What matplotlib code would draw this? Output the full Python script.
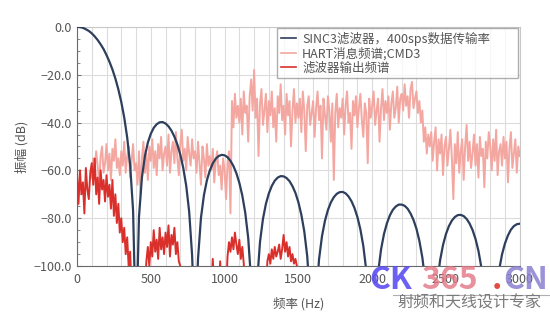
import numpy as np
import matplotlib

matplotlib.use("Agg")
import matplotlib.pyplot as plt
from matplotlib.ticker import MultipleLocator, FuncFormatter

plt.rcParams["font.family"] = ["Noto Sans CJK SC", "DejaVu Sans"]

# SINC3 filter response, read every 20 Hz from 0 to 3000 Hz (dB, nulls below axis)
SINC_START, SINC_STEP = 0, 20
SINC_DB = [
    0.0, -0.1, -0.4, -1.0, -1.7, -2.7, -4.0, -5.5, -7.3, -9.3,
    -11.8, -14.6, -17.8, -21.6, -26.1, -31.4, -37.9, -46.2, -57.7, -76.8,
    -130,
    -79.4, -62.9, -54.1, -48.4, -44.7, -42.2, -40.7, -39.9, -39.8, -40.4,
    -41.6, -43.4, -45.9, -49.2, -53.4, -59.0, -66.4, -77.2, -95.6, -130,
    -96.9, -79.8, -70.4, -64.2, -60.0, -57.1, -55.1, -54.0, -53.5, -53.7,
    -54.5, -56.0, -58.2, -61.2, -65.2, -70.5, -77.7, -88.2, -106.4, -130,
    -107.2, -89.9, -80.3, -74.0, -69.6, -66.5, -64.3, -63.0, -62.4, -62.5,
    -63.2, -64.5, -66.6, -69.4, -73.3, -78.5, -85.5, -95.9, -114.0, -130,
    -114.6, -97.2, -87.5, -81.1, -76.6, -73.4, -71.2, -69.8, -69.1, -69.0,
    -69.6, -70.9, -72.9, -75.7, -79.5, -84.6, -91.6, -101.8, -119.9, -130,
    -120.4, -102.9, -93.1, -86.6, -82.1, -78.8, -76.5, -75.1, -74.3, -74.3,
    -74.8, -76.0, -78.0, -80.7, -84.4, -89.5, -96.4, -106.7, -124.6, -130,
    -125.1, -107.6, -97.7, -91.2, -86.6, -83.3, -81.0, -79.5, -78.7, -78.6,
    -79.1, -80.3, -82.2, -84.9, -88.6, -93.6, -100.6, -110.8, -128.7, -130,
    -129.1, -111.5, -101.7, -95.1, -90.5, -87.2, -84.8, -83.3, -82.5, -82.3,
]

# HART message spectrum (CMD3), read every 10 Hz from 100 to 3000 Hz
HART_START, HART_STEP = 100, 10
HART_DB = [
    -63, -55, -60, -52, -58, -66, -54, -50, -61, -57,
    -49, -60, -53, -64, -51, -56, -47, -59, -55, -62,
    -52, -58, -48, -61, -54, -50, -63, -56, -49, -60,
    -57, -66, -52, -70, -55, -48, -61, -53, -64, -50,
    -56, -47, -59, -52, -62, -49, -55, -46, -60, -53,
    -50, -58, -45, -61, -52, -48, -57, -44, -55, -62,
    -49, -43, -56, -51, -60, -46, -53, -58, -47, -55,
    -52, -61, -48, -57, -66, -50, -55, -63, -49, -58,
    -54, -60, -51, -65, -56, -52, -62, -58, -68, -55,
    -60, -72, -57, -52, -78, -31, -42, -28, -38, -33,
    -40, -30, -45, -27, -36, -33, -48, -29, -22, -35,
    -18, -38, -30, -54, -32, -26, -41, -35, -28, -44,
    -31, -37, -27, -42, -34, -48, -29, -36, -24, -39,
    -33, -45, -28, -37, -31, -50, -35, -26, -40, -32,
    -38, -30, -44, -27, -35, -52, -33, -29, -41, -36,
    -31, -46, -34, -27, -39, -33, -55, -30, -37, -43,
    -29, -35, -48, -32, -64, -36, -28, -42, -34, -38,
    -30, -45, -33, -27, -40, -36, -51, -31, -37, -29,
    -42, -34, -28, -39, -46, -32, -36, -57, -30, -38,
    -33, -27, -41, -35, -30, -48, -34, -26, -39, -31,
    -36, -29, -43, -32, -27, -38, -34, -25, -40, -30,
    -28, -35, -24, -33, -29, -38, -26, -23, -34, -30,
    -27, -36, -31, -40, -35, -48, -42, -53, -45, -50,
    -44, -56, -48, -42, -60, -47, -53, -45, -62, -50,
    -46, -58, -51, -43, -55, -72, -49, -57, -44, -61,
    -52, -47, -64, -50, -41, -56, -48, -59, -53, -45,
    -58, -49, -63, -46, -54, -51, -67, -48, -55, -44,
    -50, -60, -47, -56, -43, -62, -52, -49, -58, -46,
    -55, -48, -65, -51, -44, -59, -53, -47, -61, -50,
    -54,
]

# filter output spectrum, read every 10 Hz from 0 to 1500 Hz (-110 = below axis)
OUT_START, OUT_STEP = 0, 10
OUT_DB = [
    -62, -74, -60, -70, -65, -78, -59, -68, -72, -61,
    -57, -66, -55, -70, -63, -74, -60, -68, -64, -73,
    -62, -71, -66, -76, -64, -79, -70, -82, -74, -86,
    -80, -90, -84, -95, -88, -100, -94, -110, -110, -110,
    -110, -110, -110, -110, -110, -110, -110, -98, -92, -100,
    -90, -96, -85, -94, -89, -97, -84, -93, -88, -95,
    -86, -92, -83, -96, -87, -91, -84, -95, -90, -98,
    -100, -110, -110, -110, -110, -110, -110, -110, -110, -110,
    -110, -110, -110, -110, -110, -110, -110, -110, -110, -110,
    -110, -110, -97, -110, -110, -110, -110, -98, -110, -110,
    -110, -110, -96, -90, -94, -88, -93, -86, -91, -95,
    -89, -97, -92, -99, -110, -110, -110, -110, -110, -110,
    -110, -110, -110, -110, -110, -110, -110, -110, -110, -98,
    -95, -99, -93, -97, -92, -96, -94, -91, -97, -93,
    -87, -94, -90, -96, -92, -98, -95, -99, -97, -100,
    -110,
]

LABELS = ["SINC3滤波器，400sps数据传输率", "HART消息频谱;CMD3", "滤波器输出频谱"]


def freqs(start, step, values):
    return start + step * np.arange(len(values))


fig = plt.figure(figsize=(5.5, 3.16), dpi=100)
ax = fig.add_axes([0.14, 0.158, 0.805, 0.757])

h_pink, = ax.plot(freqs(HART_START, HART_STEP, HART_DB), HART_DB, color="#f4a7a0", lw=1.4, zorder=2)
h_red, = ax.plot(freqs(OUT_START, OUT_STEP, OUT_DB), OUT_DB, color="#d9302c", lw=1.4, zorder=3)
h_sinc, = ax.plot(freqs(SINC_START, SINC_STEP, SINC_DB), SINC_DB, color="#2d3f5c", lw=1.6, zorder=4)

ax.set_xlim(0, 3000)
ax.set_ylim(-100, 0)
ax.xaxis.set_major_locator(MultipleLocator(500))
ax.xaxis.set_minor_locator(MultipleLocator(100))
ax.yaxis.set_major_locator(MultipleLocator(20))
ax.yaxis.set_minor_locator(MultipleLocator(5))
ax.yaxis.set_major_formatter(FuncFormatter(lambda v, _: f"{v:.1f}".replace("-", "\u2212")))
ax.grid(True, which="major", color="#dcdcdc", lw=0.8)
ax.grid(True, which="minor", axis="x", color="#dcdcdc", lw=0.8)
ax.set_axisbelow(True)
ax.tick_params(which="both", direction="in", colors="#777777", labelcolor="#555555", labelsize=9)
ax.tick_params(which="major", length=3)
ax.tick_params(which="minor", length=2)
ax.tick_params(axis="x", which="both", length=0, pad=5)
for side in ["left", "bottom"]:
    ax.spines[side].set_color("#6a6a6a")
for side in ["top", "right"]:
    ax.spines[side].set_color("#c8c8c8")

ax.set_xlabel("频率 (Hz)", fontsize=9, color="#555555", labelpad=8)
ax.set_ylabel("振幅 (dB)", fontsize=9, color="#555555", labelpad=4)

# legend box stretched to the width seen in the reference
leg = ax.legend(
    [h_sinc, h_pink, h_red], LABELS,
    loc="upper left", bbox_to_anchor=(0.452, 0.0, 0.543, 0.996), mode="expand",
    fontsize=9, frameon=True, fancybox=False, borderaxespad=0.0,
    handlelength=1.2, handletextpad=0.5, labelspacing=0.1, borderpad=0.3,
    labelcolor="#555555",
)
leg.get_frame().set_edgecolor("#9a9a9a")
leg.get_frame().set_linewidth(1.0)
for line in leg.get_lines():
    line.set_linewidth(1.2)

# site watermark
fig.text(0.672, 0.085, "CK", color="#5b4ff0", fontsize=23, fontweight="bold", alpha=0.9, zorder=10)
fig.text(0.765, 0.085, "365", color="#e37482", fontsize=23, fontweight="bold", alpha=0.8, zorder=10)
fig.text(0.895, 0.085, ".", color="#e03a2c", fontsize=23, fontweight="bold", alpha=0.9, zorder=10)
fig.text(0.915, 0.085, "CN", color="#8a7fd0", fontsize=23, fontweight="bold", alpha=0.85, zorder=10)
fig.add_artist(plt.Line2D([0.715, 1.0], [0.065, 0.065], color="#b0b0b0", lw=0.8))
fig.text(0.722, 0.04, "射频和天线设计专家", color="#7a7a7a", fontsize=11.5, va="center")

fig.savefig("out.png", dpi=100)
